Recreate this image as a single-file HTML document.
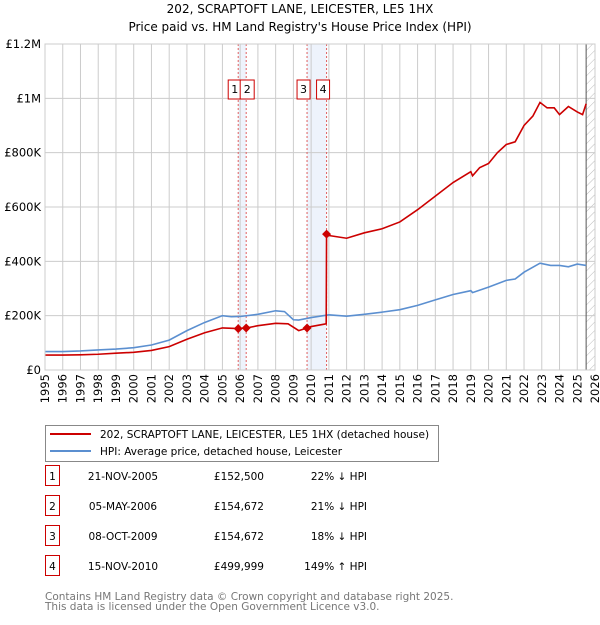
<!DOCTYPE html>
<html><head><meta charset="utf-8"><style>
body{margin:0;background:#fff;font-family:"Liberation Sans","DejaVu Sans",sans-serif;}
svg text{font-family:"DejaVu Sans","Liberation Sans",sans-serif;}
</style></head><body>
<svg id="c" width="600" height="620" xmlns="http://www.w3.org/2000/svg">
<defs><pattern id="hatch" width="6" height="6" patternUnits="userSpaceOnUse" patternTransform="rotate(45)"><line x1="0" y1="0" x2="0" y2="6" stroke="#bbb" stroke-width="1"/></pattern></defs>
<text x="300" y="13" text-anchor="middle" font-size="12">202, SCRAPTOFT LANE, LEICESTER, LE5 1HX</text>
<text x="300" y="31" text-anchor="middle" font-size="12">Price paid vs. HM Land Registry's House Price Index (HPI)</text>
<g id="plot"></g>
<g>
<rect x="45.5" y="425.5" width="393" height="36" fill="#fff" stroke="#888"/>
<line x1="50" y1="434" x2="91" y2="434" stroke="#cc0000" stroke-width="2"/>
<text x="100" y="438" font-size="10.5">202, SCRAPTOFT LANE, LEICESTER, LE5 1HX (detached house)</text>
<line x1="50" y1="451" x2="91" y2="451" stroke="#5b8fd0" stroke-width="2"/>
<text x="100" y="455" font-size="10.5">HPI: Average price, detached house, Leicester</text>
</g>
<g id="tbl" font-size="10.5"></g>
<text x="45" y="600" font-size="10.5" fill="#777">Contains HM Land Registry data © Crown copyright and database right 2025.</text>
<text x="45" y="610" font-size="10.5" fill="#777">This data is licensed under the Open Government Licence v3.0.</text>
</svg>
<script>
const yearTicks=[1995,1996,1997,1998,1999,2000,2001,2002,2003,2004,2005,2006,2007,2008,2009,2010,2011,2012,2013,2014,2015,2016,2017,2018,2019,2020,2021,2022,2023,2024,2025,2026];
const yTicks=[0,200000,400000,600000,800000,1000000,1200000];
const yTickLabels=["£0","£200K","£400K","£600K","£800K","£1M","£1.2M"];
const hpiDates=[1995,1996,1997,1998,1999,2000,2001,2002,2003,2004,2005,2005.5,2006,2007,2008,2008.5,2009,2009.3,2010,2011,2012,2013,2014,2015,2016,2017,2018,2019,2019.1,2020,2021,2021.5,2022,2022.9,2023.5,2024,2024.5,2025,2025.5];
const hpiValues=[68,68,70,74,77,82,92,110,145,175,200,196,197,205,218,215,185,184,193,203,198,205,213,222,238,258,278,292,285,305,330,335,360,393,385,385,380,390,385];
const priceDates=[1995,1996,1997,1998,1999,2000,2001,2002,2003,2004,2005,2005.9,2006.35,2007,2008,2008.7,2009.3,2009.77,2010,2010.85,2010.87,2011,2012,2013,2014,2015,2016,2017,2018,2019,2019.1,2019.5,2020,2020.5,2021,2021.5,2022,2022.5,2022.9,2023.3,2023.7,2024,2024.5,2025,2025.3,2025.5];
const priceValues=[55,55,56,58,62,65,72,86,113,137,155,152.5,154.7,163,172,170,145,154.7,160,170,500,495,485,505,520,545,590,640,690,730,715,745,760,800,830,840,900,935,985,965,965,940,970,950,940,980];
const saleDates=[2005.89,2006.34,2009.77,2010.87];
const saleValues=[152.5,154.672,154.672,499.999];
const saleLabels=["1","2","3","4"];
const saleDateText=["21-NOV-2005","05-MAY-2006","08-OCT-2009","15-NOV-2010"];
const salePriceText=["£152,500","£154,672","£154,672","£499,999"];
const saleHpiText=["22% ↓ HPI","21% ↓ HPI","18% ↓ HPI","149% ↑ HPI"];

const NS="http://www.w3.org/2000/svg";
const X0=45,X1=595,Y0=370,Y1=44;
const xs=d=>X0+(d-1995)/(2026-1995)*(X1-X0);
const ys=v=>Y0-v/1200000*(Y0-Y1);
const plot=document.getElementById('plot');
function mk(tag,attrs,parent){const e=document.createElementNS(NS,tag);for(const k in attrs)e.setAttribute(k,attrs[k]);(parent||plot).appendChild(e);return e;}
let s=mk('rect',{x:xs(saleDates[0]),y:Y1,width:xs(saleDates[1])-xs(saleDates[0]),height:Y0-Y1,fill:'#eef3fc'});


s=mk('rect',{x:xs(saleDates[2]),y:Y1,width:xs(saleDates[3])-xs(saleDates[2]),height:Y0-Y1,fill:'#eef3fc'});


s=mk('rect',{x:xs(2025.5),y:Y1,width:X1-xs(2025.5),height:Y0-Y1,fill:'url(#hatch)'});


yTicks.forEach((v,i)=>{
 const l=mk('line',{x1:X0,x2:X1,y1:ys(v),y2:ys(v),stroke:'#ccc'});
 
 
 const t=mk('text',{x:X0-4,y:ys(v)+4,'text-anchor':'end','font-size':'11.5'});
 t.textContent=yTickLabels[i];
 
 
});
yearTicks.forEach(y=>{
 const l=mk('line',{x1:xs(y),x2:xs(y),y1:Y1,y2:Y0,stroke:'#ccc'});
 
 
 const t=mk('text',{x:0,y:0,'text-anchor':'end','font-size':'11.5',transform:`translate(${xs(y)+4},${Y0+4}) rotate(-90)`});
 t.textContent=y;
 
 
});
let ln=mk('line',{x1:xs(2025.5),x2:xs(2025.5),y1:Y1,y2:Y0,stroke:'#555'});


saleDates.forEach(d=>{
 const l=mk('line',{x1:xs(d),x2:xs(d),y1:Y1,y2:Y0,stroke:'#e06060','stroke-dasharray':'2,2'});
 
 
});
const hp=mk('polyline',{points:hpiDates.map((d,i)=>xs(d)+','+ys(hpiValues[i]*1000)).join(' '),fill:'none',stroke:'#5b8fd0','stroke-width':1.6});


const pp=mk('polyline',{points:priceDates.map((d,i)=>xs(d)+','+ys(priceValues[i]*1000)).join(' '),fill:'none',stroke:'#cc0000','stroke-width':1.6});


saleDates.forEach((d,i)=>{
 const x=xs(d),y=ys(saleValues[i]*1000);
 const p=mk('path',{d:`M${x-4.5},${y} L${x},${y-4.5} L${x+4.5},${y} L${x},${y+4.5}Z`,fill:'#cc0000'});
 
 
});
const boxX=[xs(saleDates[0])-10,xs(saleDates[1])-6,xs(saleDates[2])-10,xs(saleDates[3])-10];
saleLabels.forEach((lab,i)=>{
 const g=mk('g',{});
 
 
 mk('rect',{x:boxX[i],y:80,width:i==1?14:13,height:19,fill:'#fff',stroke:'#cc0000'},g);
 const t=mk('text',{x:boxX[i]+(i==1?7:6.5),y:93,'text-anchor':'middle','font-size':'11'},g);
 t.textContent=lab;
});
mk('rect',{x:X0,y:Y1,width:X1-X0,height:Y0-Y1,fill:'none',stroke:'#ccc'});
const tbl=document.getElementById('tbl');
saleLabels.forEach((lab,i)=>{
 const y=483+i*30;
 const g=mk('g',{},tbl);
 
 
 mk('rect',{x:45.5,y:y-17.5,width:14,height:20,fill:'#fff',stroke:'#cc0000'},g);
 let t=mk('text',{x:52.5,y:y-3,'text-anchor':'middle'},g);t.textContent=lab;
 t=mk('text',{x:123,y:y-3,'text-anchor':'middle'},g);t.textContent=saleDateText[i];
 t=mk('text',{x:264,y:y-3,'text-anchor':'end'},g);t.textContent=salePriceText[i];
 t=mk('text',{x:367,y:y-3,'text-anchor':'end'},g);t.textContent=saleHpiText[i];
});
</script>
</body></html>
